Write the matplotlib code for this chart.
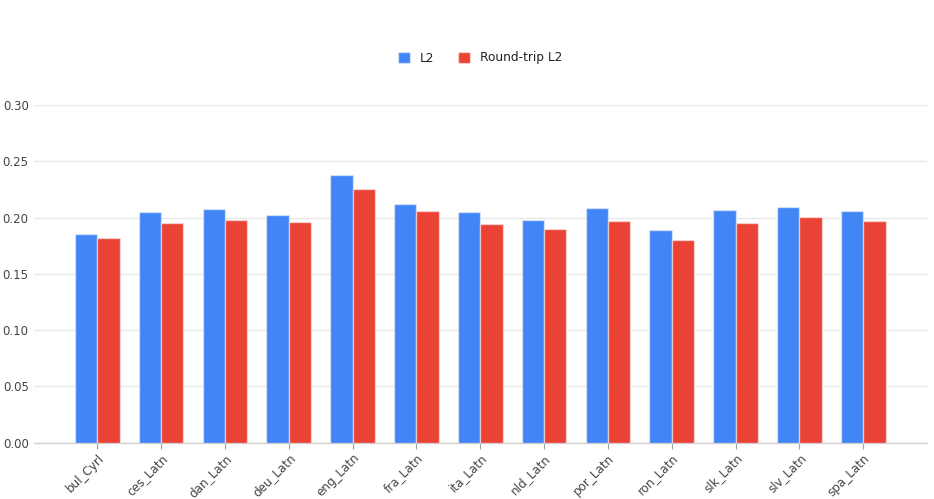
import matplotlib
matplotlib.use("Agg")
import matplotlib.pyplot as plt
import numpy as np

categories = ["bul_Cyrl", "ces_Latn", "dan_Latn", "deu_Latn", "eng_Latn", "fra_Latn",
              "ita_Latn", "nld_Latn", "por_Latn", "ron_Latn", "slk_Latn", "slv_Latn", "spa_Latn"]
l2 = [0.1855, 0.2053, 0.2078, 0.2027, 0.2383, 0.2122, 0.2048, 0.1977, 0.2084, 0.1887, 0.2070, 0.2095, 0.2058]
rt_l2 = [0.1822, 0.1950, 0.1980, 0.1959, 0.2253, 0.2057, 0.1944, 0.1897, 0.1968, 0.1800, 0.1950, 0.2005, 0.1968]
yticks = [0.00, 0.05, 0.10, 0.15, 0.20, 0.25, 0.30]

fig = plt.figure(figsize=(9.34, 4.99), dpi=100)
ax = fig.add_axes([33.5/934, 1-442.5/499, (927-33.5)/934, (442.5-105.3)/499])

x = np.arange(len(categories))
w = 0.35
edge = (1, 1, 1, 0.5)
ax.bar(x - w/2, l2, w, color="#4285F4", edgecolor=edge, linewidth=1, label="L2", zorder=3)
ax.bar(x + w/2, rt_l2, w, color="#EA4335", edgecolor=edge, linewidth=1, label="Round-trip L2", zorder=3)

ax.set_xlim(-1, len(categories))
ax.set_ylim(0, 0.30)
ax.set_yticks(yticks)
ax.set_yticklabels([f"{v:.2f}" for v in yticks])
ax.set_xticks(x)
ax.set_xticklabels(categories, rotation=45, ha="right", rotation_mode="anchor")

ax.yaxis.grid(True, color="#e8e8e8", linewidth=1, zorder=0)
ax.set_axisbelow(True)
for s in ["top", "right", "left"]:
    ax.spines[s].set_visible(False)
ax.spines["bottom"].set_color("#d0d0d0")
ax.spines["bottom"].set_linewidth(1)
ax.tick_params(axis="y", length=0, pad=3.5, labelsize=8.5, labelcolor="#444444")
ax.tick_params(axis="x", length=4, color="#a0a0a0", labelsize=8.6, labelcolor="#444444", pad=2.5)

leg = ax.legend(loc="center", bbox_to_anchor=(0.5, (499-58 - (499-442.5))/(442.5-105.3)),
                ncol=2, frameon=False, fontsize=8.7, handlelength=1.0, handleheight=1.0,
                columnspacing=2.0, handletextpad=0.8)
for t in leg.get_texts():
    t.set_color("#222222")

fig.savefig("out.png", dpi=100)
